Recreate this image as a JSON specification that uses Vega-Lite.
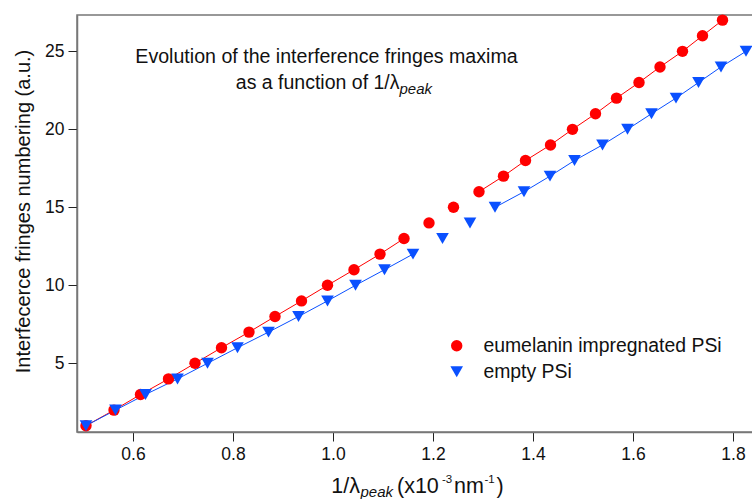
{
  "$schema": "https://vega.github.io/schema/vega-lite/v6.json",
  "width": 677,
  "height": 417,
  "autosize": "none",
  "padding": {"left": 77, "top": 15, "right": 0, "bottom": 67},
  "background": "white",
  "config": {
    "font": "Liberation Sans",
    "view": {"stroke": "#777", "strokeWidth": 1.5},
    "axis": {
      "grid": false,
      "domainColor": "#777",
      "domainWidth": 1.5,
      "tickColor": "#222",
      "tickSize": 9,
      "tickWidth": 1,
      "labelColor": "#111",
      "labelFont": "Liberation Sans",
      "labelFontSize": 17.5,
      "labelPadding": 4,
      "titleFont": "Liberation Sans",
      "titleFontWeight": "normal",
      "titleColor": "#111"
    },
    "text": {"font": "Liberation Sans", "color": "#111"}
  },
  "datasets": {
    "pts": [
      {"s": "eumelanin impregnated PSi", "n": 1, "x": 0.506, "seg": "a"},
      {"s": "eumelanin impregnated PSi", "n": 2, "x": 0.562, "seg": "a"},
      {"s": "eumelanin impregnated PSi", "n": 3, "x": 0.615, "seg": "a"},
      {"s": "eumelanin impregnated PSi", "n": 4, "x": 0.671, "seg": "a"},
      {"s": "eumelanin impregnated PSi", "n": 5, "x": 0.724, "seg": "a"},
      {"s": "eumelanin impregnated PSi", "n": 6, "x": 0.777, "seg": "a"},
      {"s": "eumelanin impregnated PSi", "n": 7, "x": 0.832, "seg": "a"},
      {"s": "eumelanin impregnated PSi", "n": 8, "x": 0.884, "seg": "a"},
      {"s": "eumelanin impregnated PSi", "n": 9, "x": 0.937, "seg": "a"},
      {"s": "eumelanin impregnated PSi", "n": 10, "x": 0.989, "seg": "a"},
      {"s": "eumelanin impregnated PSi", "n": 11, "x": 1.042, "seg": "a"},
      {"s": "eumelanin impregnated PSi", "n": 12, "x": 1.094, "seg": "a"},
      {"s": "eumelanin impregnated PSi", "n": 13, "x": 1.142, "seg": "a"},
      {"s": "eumelanin impregnated PSi", "n": 14, "x": 1.192, "seg": "none"},
      {"s": "eumelanin impregnated PSi", "n": 15, "x": 1.241, "seg": "none"},
      {"s": "eumelanin impregnated PSi", "n": 16, "x": 1.292, "seg": "b"},
      {"s": "eumelanin impregnated PSi", "n": 17, "x": 1.341, "seg": "b"},
      {"s": "eumelanin impregnated PSi", "n": 18, "x": 1.385, "seg": "b"},
      {"s": "eumelanin impregnated PSi", "n": 19, "x": 1.435, "seg": "b"},
      {"s": "eumelanin impregnated PSi", "n": 20, "x": 1.479, "seg": "b"},
      {"s": "eumelanin impregnated PSi", "n": 21, "x": 1.525, "seg": "b"},
      {"s": "eumelanin impregnated PSi", "n": 22, "x": 1.567, "seg": "b"},
      {"s": "eumelanin impregnated PSi", "n": 23, "x": 1.612, "seg": "b"},
      {"s": "eumelanin impregnated PSi", "n": 24, "x": 1.654, "seg": "b"},
      {"s": "eumelanin impregnated PSi", "n": 25, "x": 1.699, "seg": "b"},
      {"s": "eumelanin impregnated PSi", "n": 26, "x": 1.739, "seg": "b"},
      {"s": "eumelanin impregnated PSi", "n": 27, "x": 1.779, "seg": "b"},
      {"s": "empty PSi", "n": 1, "x": 0.506, "seg": "a"},
      {"s": "empty PSi", "n": 2, "x": 0.565, "seg": "a"},
      {"s": "empty PSi", "n": 3, "x": 0.625, "seg": "a"},
      {"s": "empty PSi", "n": 4, "x": 0.689, "seg": "a"},
      {"s": "empty PSi", "n": 5, "x": 0.749, "seg": "a"},
      {"s": "empty PSi", "n": 6, "x": 0.809, "seg": "a"},
      {"s": "empty PSi", "n": 7, "x": 0.871, "seg": "a"},
      {"s": "empty PSi", "n": 8, "x": 0.931, "seg": "a"},
      {"s": "empty PSi", "n": 9, "x": 0.989, "seg": "a"},
      {"s": "empty PSi", "n": 10, "x": 1.045, "seg": "a"},
      {"s": "empty PSi", "n": 11, "x": 1.103, "seg": "a"},
      {"s": "empty PSi", "n": 12, "x": 1.160, "seg": "a"},
      {"s": "empty PSi", "n": 13, "x": 1.219, "seg": "none"},
      {"s": "empty PSi", "n": 14, "x": 1.274, "seg": "none"},
      {"s": "empty PSi", "n": 15, "x": 1.324, "seg": "b"},
      {"s": "empty PSi", "n": 16, "x": 1.382, "seg": "b"},
      {"s": "empty PSi", "n": 17, "x": 1.434, "seg": "b"},
      {"s": "empty PSi", "n": 18, "x": 1.483, "seg": "b"},
      {"s": "empty PSi", "n": 19, "x": 1.539, "seg": "b"},
      {"s": "empty PSi", "n": 20, "x": 1.589, "seg": "b"},
      {"s": "empty PSi", "n": 21, "x": 1.637, "seg": "b"},
      {"s": "empty PSi", "n": 22, "x": 1.686, "seg": "b"},
      {"s": "empty PSi", "n": 23, "x": 1.731, "seg": "b"},
      {"s": "empty PSi", "n": 24, "x": 1.776, "seg": "b"},
      {"s": "empty PSi", "n": 25, "x": 1.826, "seg": "b"}
    ],
    "notes": [
      {"t": "Evolution of the interference fringes maxima", "px": 0.987, "py": 24.65, "part": "l1"},
      {"t": "as a function of 1/λ", "px": 1.133, "py": 22.95, "part": "l2"},
      {"t": "peak", "px": 1.133, "py": 22.95, "part": "sub"},
      {"t": "1/λ", "px": 1.054, "py": -2.95, "part": "xr"},
      {"t": "peak", "px": 1.055, "py": -2.95, "part": "xsub"},
      {"t": "(x10", "px": 1.128, "py": -2.95, "part": "xl"},
      {"t": "-3", "px": 1.218, "py": -2.95, "part": "xsup"},
      {"t": "nm", "px": 1.242, "py": -2.95, "part": "xl"},
      {"t": "-1", "px": 1.303, "py": -2.95, "part": "xsup"},
      {"t": ")", "px": 1.327, "py": -2.95, "part": "xl"}
    ]
  },
  "layer": [
    {
      "data": {"name": "pts"},
      "transform": [{"filter": "datum.seg != 'none'"}],
      "mark": {"type": "line", "strokeWidth": 1},
      "encoding": {
        "x": {
          "field": "x", "type": "quantitative",
          "scale": {"domain": [0.488, 1.842], "nice": false, "zero": false},
          "axis": {"values": [0.6, 0.8, 1.0, 1.2, 1.4, 1.6, 1.8], "format": ".1f", "title": null}
        },
        "y": {
          "field": "n", "type": "quantitative",
          "scale": {"domain": [0.596, 27.33], "nice": false, "zero": false},
          "axis": {
            "values": [5, 10, 15, 20, 25],
            "title": "Interfecerce fringes numbering (a.u.)",
            "titleFontSize": 20,
            "titleX": -54,
            "titleY": 196,
            "titleBaseline": "middle"
          }
        },
        "color": {"field": "s", "type": "nominal",
          "scale": {"domain": ["eumelanin impregnated PSi", "empty PSi"], "range": ["#ff0000", "#0a50ff"]}},
        "detail": {"field": "seg"}
      }
    },
    {
      "data": {"name": "pts"},
      "mark": {"type": "point", "filled": true, "opacity": 1},
      "encoding": {
        "x": {"field": "x", "type": "quantitative"},
        "y": {"field": "n", "type": "quantitative"},
        "size": {"field": "s", "type": "nominal", "legend": null,
          "scale": {"domain": ["eumelanin impregnated PSi", "empty PSi"], "range": [130, 160]}},
        "color": {"field": "s", "type": "nominal",
          "legend": {
            "title": null,
            "orient": "none",
            "legendX": 370,
            "legendY": 321,
            "padding": 0,
            "labelFont": "Liberation Sans",
            "labelFontSize": 19.4,
            "labelColor": "#111",
            "labelOffset": 17,
            "labelLimit": 0,
            "rowPadding": 5,
            "symbolSize": 140,
            "symbolStrokeWidth": 0,
            "symbolOpacity": 1
          }
        },
        "shape": {"field": "s", "type": "nominal",
          "scale": {"domain": ["eumelanin impregnated PSi", "empty PSi"], "range": ["circle", "triangle-down"]}}
      }
    },
    {
      "data": {"name": "notes"},
      "transform": [{"filter": "datum.part == 'l1'"}],
      "mark": {"type": "text", "fontSize": 19.6, "align": "center", "baseline": "middle"},
      "encoding": {
        "x": {"field": "px", "type": "quantitative"},
        "y": {"field": "py", "type": "quantitative"},
        "text": {"field": "t"}
      }
    },
    {
      "data": {"name": "notes"},
      "transform": [{"filter": "datum.part == 'l2'"}],
      "mark": {"type": "text", "fontSize": 19.5, "align": "right", "baseline": "middle"},
      "encoding": {
        "x": {"field": "px", "type": "quantitative"},
        "y": {"field": "py", "type": "quantitative"},
        "text": {"field": "t"}
      }
    },
    {
      "data": {"name": "notes"},
      "transform": [{"filter": "datum.part == 'sub'"}],
      "mark": {"type": "text", "fontSize": 15, "fontStyle": "italic", "align": "left", "baseline": "middle", "dy": 6},
      "encoding": {
        "x": {"field": "px", "type": "quantitative"},
        "y": {"field": "py", "type": "quantitative"},
        "text": {"field": "t"}
      }
    },
    {
      "data": {"name": "notes"},
      "transform": [{"filter": "datum.part == 'xr'"}],
      "mark": {"type": "text", "fontSize": 21.5, "align": "right", "baseline": "middle", "clip": false},
      "encoding": {
        "x": {"field": "px", "type": "quantitative"},
        "y": {"field": "py", "type": "quantitative"},
        "text": {"field": "t"}
      }
    },
    {
      "data": {"name": "notes"},
      "transform": [{"filter": "datum.part == 'xl'"}],
      "mark": {"type": "text", "fontSize": 21.5, "align": "left", "baseline": "middle", "clip": false},
      "encoding": {
        "x": {"field": "px", "type": "quantitative"},
        "y": {"field": "py", "type": "quantitative"},
        "text": {"field": "t"}
      }
    },
    {
      "data": {"name": "notes"},
      "transform": [{"filter": "datum.part == 'xsub'"}],
      "mark": {"type": "text", "fontSize": 15, "fontStyle": "italic", "align": "left", "baseline": "middle", "dy": 5, "clip": false},
      "encoding": {
        "x": {"field": "px", "type": "quantitative"},
        "y": {"field": "py", "type": "quantitative"},
        "text": {"field": "t"}
      }
    },
    {
      "data": {"name": "notes"},
      "transform": [{"filter": "datum.part == 'xsup'"}],
      "mark": {"type": "text", "fontSize": 11.5, "align": "left", "baseline": "middle", "dy": -7, "clip": false},
      "encoding": {
        "x": {"field": "px", "type": "quantitative"},
        "y": {"field": "py", "type": "quantitative"},
        "text": {"field": "t"}
      }
    }
  ]
}
